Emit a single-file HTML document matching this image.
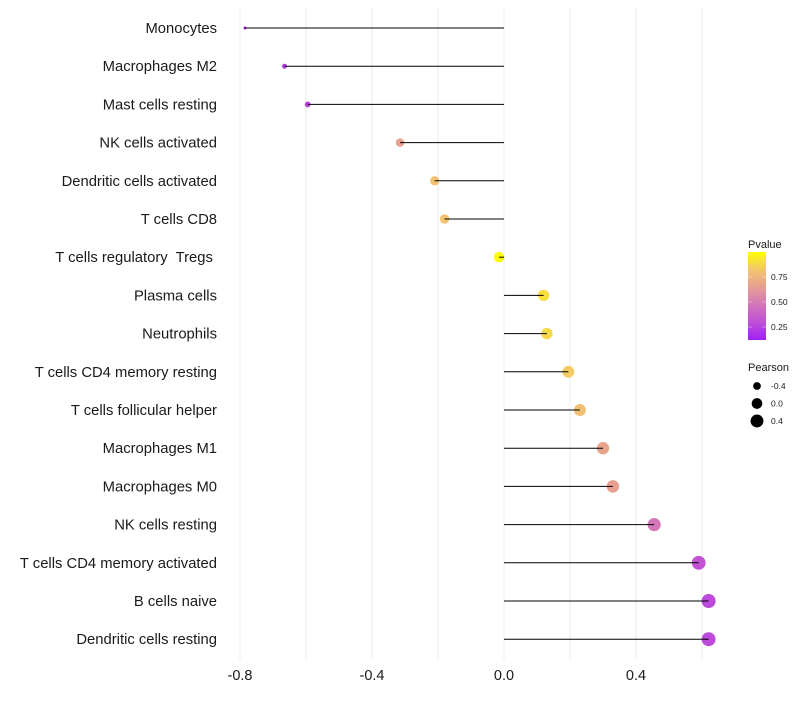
<!DOCTYPE html>
<html><head><meta charset="utf-8"><style>
body{margin:0;background:#fff;font-family:"Liberation Sans",sans-serif}
</style></head><body>
<svg id="c" width="800" height="700" xmlns="http://www.w3.org/2000/svg"></svg>
<script>
const categories=["Monocytes","Macrophages M2","Mast cells resting","NK cells activated","Dendritic cells activated","T cells CD8","T cells regulatory  Tregs ","Plasma cells","Neutrophils","T cells CD4 memory resting","T cells follicular helper","Macrophages M1","Macrophages M0","NK cells resting","T cells CD4 memory activated","B cells naive","Dendritic cells resting"];
const pearson=[-0.785,-0.665,-0.595,-0.315,-0.21,-0.18,-0.015,0.12,0.13,0.195,0.23,0.3,0.33,0.455,0.59,0.62,0.62];
const pvalue=[0.12,0.22,0.26,0.66,0.8,0.82,0.99,0.9,0.88,0.84,0.8,0.68,0.66,0.48,0.32,0.28,0.28];
const xTicks=[-0.8,-0.4,0.0,0.4];
const xTickLabels=["-0.8","-0.4","0.0","0.4"];
const pTicks=[0.25,0.5,0.75];
const sizeTicks=[-0.4,0,0.4];

const NS="http://www.w3.org/2000/svg";
const svg=document.getElementById('c');
const x=v=>504+v*330;
const y=i=>28+i*38.2;
const r=v=>Math.sqrt(Math.max(1,28.3+33.2*v));
const stops=[[0.12,[160,32,240]],[0.3,[192,80,216]],[0.5,[214,124,180]],[0.66,[232,160,144]],[0.82,[242,196,112]],[1,[255,255,0]]];
function col(p){p=Math.max(0.12,Math.min(1,p));for(let k=1;k<stops.length;k++){if(p<=stops[k][0]){const a=stops[k-1],b=stops[k];const t=(p-a[0])/(b[0]-a[0]);const c=a[1].map((v,j)=>Math.round(v+(b[1][j]-v)*t));return `rgb(${c})`;}}return 'rgb(255,255,0)';}
const py=p=>252+(1-p)*100;
function el(t,a,txt){const e=document.createElementNS(NS,t);for(const k in a)e.setAttribute(k,a[k]);if(txt!=null)e.textContent=txt;svg.appendChild(e);return e;}

[-0.8,-0.6,-0.4,-0.2,0,0.2,0.4,0.6].forEach(v=>{
 const g=el('line',{x1:x(v),x2:x(v),y1:8,y2:660,stroke:'#ebebeb','stroke-width':1});
 
 
});
categories.forEach((c,i)=>{
 const pt=el('circle',{cx:x(pearson[i]),cy:y(i),r:r(pearson[i]),fill:col(pvalue[i])});
 
 
 const ln=el('line',{x1:x(0),x2:x(pearson[i]),y1:y(i),y2:y(i),stroke:'#000','stroke-width':1});
 
 
 const lb=el('text',{x:217,y:y(i)+5,'text-anchor':'end','font-size':14.8,fill:'#1a1a1a',style:'white-space:pre'},c);
 
 
});
xTicks.forEach((v,i)=>{
 const t=el('text',{x:x(v),y:680,'text-anchor':'middle','font-size':14.5,fill:'#1a1a1a'},xTickLabels[i]);
 
 
});
const defs=el('defs',{});
const lg=document.createElementNS(NS,'linearGradient');lg.setAttribute('id','g');lg.setAttribute('x1',0);lg.setAttribute('y1',1);lg.setAttribute('x2',0);lg.setAttribute('y2',0);
stops.forEach(s=>{const st=document.createElementNS(NS,'stop');st.setAttribute('offset',(s[0]-0.12)/0.88);st.setAttribute('stop-color',`rgb(${s[1]})`);lg.appendChild(st);});
defs.appendChild(lg);
const lt=el('text',{x:748,y:248,'font-size':11,fill:'#1a1a1a'},'Pvalue');


const bar=el('rect',{x:748,y:252,width:18,height:88,fill:'url(#g)'});


pTicks.forEach(p=>{
 const t=el('text',{x:771,y:py(p)+3,'font-size':8.5,fill:'#1a1a1a'},p.toFixed(2));
 
 
 el('line',{x1:748,x2:752,y1:py(p),y2:py(p),stroke:'#fff','stroke-width':0.6,'stroke-opacity':0.6});
 el('line',{x1:762,x2:766,y1:py(p),y2:py(p),stroke:'#fff','stroke-width':0.6,'stroke-opacity':0.6});
});
const st2=el('text',{x:748,y:371,'font-size':11,fill:'#1a1a1a'},'Pearson');


sizeTicks.forEach((v,i)=>{
 const cy=386+i*17.5;
 const c=el('circle',{cx:757,cy:cy,r:r(v),fill:'#000'});
 
 
 const t=el('text',{x:771,y:cy+3,'font-size':8.5,fill:'#1a1a1a'},v.toFixed(1));
 
 
});
</script>
</body></html>
